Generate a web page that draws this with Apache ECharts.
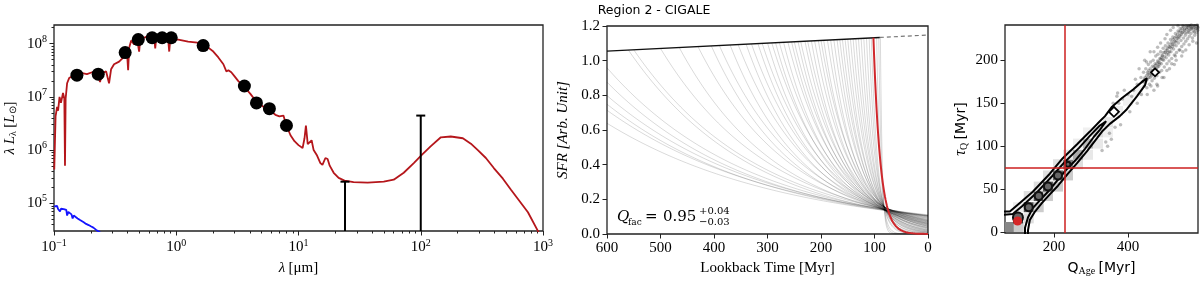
<!DOCTYPE html>
<html><head><meta charset="utf-8">
<script src="https://cdn.jsdelivr.net/npm/echarts@6/dist/echarts.min.js"></script>
<style>html,body{margin:0;padding:0;background:#fff}#c{width:1200px;height:281px}</style>
</head><body><div id="c"></div>
<script>
// ---------------- Panel 1: SED (wavelength [um], lambda L_lambda [Lsun]) ----------------
const sedModel = [[0.1005,4.3e5],[0.103,4.3e6],[0.106,6.5e6],[0.108,5.5e6],[0.111,1.0e7],[0.114,7.7e6],[0.1185,1.19e7],[0.1215,9.2e6],[0.123,5.1e5],[0.1245,9.2e6],[0.128,1.8e7],[0.133,2.25e7],[0.141,2.45e7],[0.154,2.55e7],[0.170,2.8e7],[0.186,2.67e7],[0.205,2.9e7],[0.225,2.8e7],[0.238,1.9e7],[0.247,2.8e7],[0.267,3.0e7],[0.282,1.8e7],[0.293,3.3e7],[0.310,4.1e7],[0.341,4.6e7],[0.375,5.7e7],[0.397,6.0e7],[0.404,3.16e7],[0.412,8.4e7],[0.428,1.14e8],[0.453,9.6e7],[0.479,1.19e8],[0.497,7.1e7],[0.507,1.19e8],[0.568,1.35e8],[0.66,1.29e8],[0.673,8.1e7],[0.686,1.29e8],[0.782,1.29e8],[0.859,1.19e8],[0.876,7.1e7],[0.893,1.19e8],[1.04,1.19e8],[1.25,1.09e8],[1.49,1.04e8],[1.66,9.2e7],[1.83,8.4e7],[2.01,7.1e7],[2.21,5.5e7],[2.43,4.1e7],[2.57,3.0e7],[2.67,3.16e7],[2.82,2.9e7],[2.99,2.45e7],[3.22,1.98e7],[3.61,1.53e7],[4.04,1.14e7],[4.53,8.1e6],[5.16,6.5e6],[5.78,5.7e6],[6.47,4.6e6],[6.98,4.3e6],[7.53,4.45e6],[7.97,2.9e6],[8.6,1.9e6],[9.27,1.47e6],[10.0,1.24e6],[10.8,1.09e6],[11.2,1.67e6],[11.5,2.9e6],[11.9,1.29e6],[12.3,1.35e6],[12.8,1.53e6],[13.3,1.0e6],[14.1,8.1e5],[15.1,5.7e5],[15.7,5.3e5],[16.6,7.1e5],[17.3,6.8e5],[18.0,5.1e5],[19.4,3.75e5],[21.3,3.0e5],[23.8,2.67e5],[28.2,2.5e5],[36.8,2.45e5],[49.8,2.55e5],[60.1,2.78e5],[72.6,3.75e5],[87.7,5.7e5],[102,8.1e5],[121,1.19e6],[146,1.74e6],[176,1.8e6],[221,1.67e6],[257,1.32e6],[293,1.0e6],[341,7.1e5],[396,4.6e5],[470,2.9e5],[547,1.8e5],[635,1.14e5],[753,6.8e4],[910,3.0e4],[1060,1.5e4]];
const sedBlue = [[0.1003,8.8e4],[0.102,9.5e4],[0.104,8.4e4],[0.106,8.9e4],[0.108,7.8e4],[0.110,8.3e4],[0.112,7.0e4],[0.114,7.9e4],[0.117,7.6e4],[0.12,7.8e4],[0.123,7.3e4],[0.126,7.5e4],[0.128,5.9e4],[0.131,6.9e4],[0.135,6.5e4],[0.139,6.2e4],[0.142,5.2e4],[0.145,5.9e4],[0.150,5.6e4],[0.156,5.2e4],[0.162,4.9e4],[0.168,4.6e4],[0.175,4.4e4],[0.183,4.1e4],[0.192,3.9e4],[0.20,3.7e4],[0.21,3.5e4],[0.22,3.2e4],[0.23,3.0e4],[0.24,2.8e4]];
const photometry = [[0.154,2.55e7],[0.230,2.67e7],[0.382,6.8e7],[0.489,1.19e8],[0.635,1.29e8],[0.767,1.29e8],[0.910,1.29e8],[1.66,9.2e7],[3.61,1.6e7],[4.53,7.7e6],[5.78,6.0e6],[7.97,2.9e6]];
const upperBars = [[24,2.55e5,1e3],[100,4.45e6,1e3]]; // [wavelength, top, bottom]
const sedXExponents = [-1,0,1,2,3];
const sedYExponents = [5,6,7,8];

// ---------------- Panel 2: SFH curves (quench age [Myr], tau [Myr]) ----------------
const quenchAges = [760,720,700,680,650,625,560,550,500,465,430,405,390,370,355,340,330,318,310,300,292,285,278,270,262,255,250,243,238,230,225,218,212,205,200,195,188,182,176,170,165,160,155,150,145,140,135,130,125,120,115,110,106,96,92,89];
const quenchTaus = [335,322,305,300,280,272,235,236,210,188,176,158,156,140,138,125,126,115,116,105,108,98,100,91,92,84,86,78,80,72,73,65,66,60,61,55,54,48,48,43,42,38,37,33,32,29,27,24,22,19,17,14,12,7,5,3.5];
const bestQ = 102, bestTau = 13;
const sfrTopSolid = [[600,1.055],[90,1.134]];
const sfrTopDashed = [[90,1.134],[0,1.148]];

// ---------------- Panel 3: posterior (Q_Age, tau_Q) ----------------
const posteriorSamples = [[440,175],[442,186],[444,170],[446,180],[448,190],[449,176],[451,168],[453,186],[455,195],[456,180],[458,172],[460,190],[461,198],[463,184],[465,176],[466,193],[468,200],[470,187],[471,179],[473,196],[475,205],[476,190],[478,182],[480,199],[481,207],[483,193],[485,186],[486,202],[488,210],[490,196],[491,188],[493,205],[495,214],[496,200],[498,192],[500,209],[501,217],[503,203],[505,196],[506,212],[508,220],[510,206],[511,199],[513,215],[515,224],[516,210],[518,202],[520,219],[521,227],[523,213],[525,206],[526,222],[528,231],[530,217],[531,209],[533,226],[535,234],[536,220],[538,212],[540,229],[541,237],[543,223],[545,216],[546,232],[548,240],[550,226],[551,219],[553,235],[555,229],[556,222],[558,238],[560,232],[561,225],[563,240],[565,235],[566,228],[568,239],[570,231],[572,237],[574,226],[576,234],[578,240],[580,229],[582,236],[584,232],[586,239],[588,235],[420,178],[430,190],[436,160],[445,200],[452,160],[462,170],[470,210],[478,172],[488,220],[497,180],[505,230],[512,190],[522,238],[530,200],[540,212],[548,210],[556,212],[565,218],[575,222],[585,220],[470,165],[500,225],[525,195],[415,165],[425,150],[410,158],[400,160],[405,140],[390,165],[385,155],[375,150],[370,158],[365,122],[380,125],[350,115],[340,105],[355,108],[345,100],[330,95],[360,150],[372,162],[425,172],[435,180],[450,198],[460,210],[480,215],[515,235],[535,240],[480,170],[492,180],[505,188],[518,196],[528,205],[545,205],[490,203],[492,206],[494,201],[496,209],[498,204],[502,211],[504,207],[506,214],[508,209],[510,216],[512,210],[514,218],[516,214],[518,221],[520,216],[522,224],[524,218],[526,226],[528,221],[530,228],[532,223],[534,230],[536,226],[538,233],[540,227],[542,234],[544,230],[546,237],[548,233],[550,239],[552,236],[554,232],[557,240],[559,236],[562,238],[564,233],[567,240],[569,236],[571,241],[573,238],[577,238],[579,233],[581,240],[583,237],[587,241],[589,238],[460,180],[462,186],[464,182],[466,188],[468,184],[470,192],[472,188],[474,194],[476,186],[478,196],[480,192],[482,198],[484,195],[486,197],[488,201],[450,182],[452,178],[454,184],[456,188],[458,183],[444,178],[446,174]];
const histCells = [[81,6,0.47],[105,6,0.2],[103,16,0.8],[132,16,0.13],[103,29,0.07],[132,29,0.67],[159,29,0.2],[132,42,0.13],[159,42,0.67],[184,42,0.2],[159,53,0.13],[184,53,0.67],[211,53,0.2],[184,66,0.13],[211,66,0.6],[238,66,0.2],[211,79,0.12],[238,79,0.5],[265,79,0.13],[238,90,0.1],[265,90,0.33],[292,90,0.09],[265,103,0.07],[292,103,0.27],[319,103,0.09],[292,116,0.06],[319,116,0.13],[346,116,0.06],[346,128,0.1],[373,141,0.07],[400,153,0.06],[427,164,0.05]];
const outerContour = [[54,24],[81,24],[89,27],[108,34],[143,47],[189,68],[224,86],[262,102],[297,117],[324,129],[338,135],[357,146],[384,156],[414,166],[441,176],[451,179],[446,171],[424,158],[397,143],[378,135],[351,126],[332,118],[316,109],[289,94],[262,80],[238,68],[211,54],[189,44],[168,34],[149,24],[135,14],[130,2],[130,-13],[54,-13],[54,24]];
const innerContour = [[54,20],[89,21],[114,30],[149,44],[195,65],[230,82],[268,98],[297,112],[324,124],[341,129],[346,127],[324,119],[308,111],[284,97],[257,83],[232,72],[205,58],[184,47],[162,37],[143,28],[130,17],[122,5],[122,-13],[54,-13],[54,20]];
const contourIslands = [[362,140],[473,186]];
const peakRings = [[103,17],[132,29],[159,42],[184,53],[211,66],[238,79]];
const medianQ = 230, medianTau = 75;

// ---------------- helpers ----------------
const lg = Math.log10;
const toLog = arr => arr.map(p => [lg(p[0]), lg(p[1])]);
function topLevel(t){
  const a = sfrTopSolid[0], b = sfrTopDashed[1];
  return a[1] + (b[1]-a[1])*(t-a[0])/(b[0]-a[0]);
}
function quenchCurve(Q, tau){
  const s = topLevel(Q), pts = [], start = Math.min(Q, 600);
  const step = Math.max(0.25, Math.min(4, tau/12));
  for (let t = start; t > 0; t -= step) pts.push([t, s*Math.exp(-(Q-t)/tau)]);
  pts.push([0, s*Math.exp(-Q/tau)]);
  return pts;
}
const minorX = [], minorY = [];
for (let n=-1;n<=2;n++) for (let k=2;k<=9;k++) minorX.push(lg(k*Math.pow(10,n)));
for (let n=4;n<=8;n++) for (let k=2;k<=9;k++){ const v=lg(k*Math.pow(10,n)); if(v>4.48&&v<8.35) minorY.push(v); }

const SERIF = 'Liberation Serif';
const tickStyle = {color:'#222', width:1};
const lblBase = {color:'#000', fontFamily:SERIF, fontSize:15};
const supRich = {b:{fontFamily:SERIF,fontSize:15,color:'#000'}, s:{fontFamily:SERIF,fontSize:10,color:'#000',padding:[0,0,9,0]}};
const expFmt = v => '{b|10}{s|' + (v<0 ? '\u2212'+Math.abs(v) : v) + '}';
const noSplit = {show:false};
const noLine = {show:false, onZero:false};

const grids = [
  {left:54, top:25, width:489, height:209},
  {left:607, top:26, width:321, height:209},
  {left:1005, top:25, width:193, height:209}
].map(g => Object.assign(g, {show:true, borderColor:'#222', borderWidth:1.3, backgroundColor:'transparent'}));

const xAxes = [
  {type:'value', gridIndex:0, min:-1, max:3, interval:1, position:'bottom',
   axisLine:noLine, splitLine:noSplit,
   axisTick:{show:true, length:4.5, lineStyle:tickStyle},
   axisLabel:{formatter:expFmt, rich:supRich, margin:7},
   name:'{i|\u03bb} {r|[\u03bcm]}', nameLocation:'middle', nameGap:30,
   nameTextStyle:{rich:{i:{fontFamily:SERIF,fontStyle:'italic',fontSize:15,color:'#000'}, r:{fontFamily:SERIF,fontSize:15,color:'#000'}}}},
  {type:'value', gridIndex:0, min:-1, max:3, position:'bottom',
   axisLine:noLine, splitLine:noSplit, axisLabel:{show:false},
   axisTick:{show:true, length:2.5, customValues:minorX, lineStyle:tickStyle}},
  {type:'value', gridIndex:1, min:0, max:600, interval:100, inverse:true, position:'bottom',
   axisLine:noLine, splitLine:noSplit,
   axisTick:{show:true, length:4.5, lineStyle:tickStyle},
   axisLabel:Object.assign({margin:7}, lblBase),
   name:'Lookback Time [Myr]', nameLocation:'middle', nameGap:27,
   nameTextStyle:{fontFamily:SERIF, fontSize:15, color:'#000'}},
  {type:'value', gridIndex:2, min:68, max:589, position:'bottom',
   axisLine:noLine, splitLine:noSplit,
   axisTick:{show:true, length:4.5, customValues:[200,400], lineStyle:tickStyle},
   axisLabel:Object.assign({margin:7, customValues:[200,400]}, lblBase),
   name:'{q|Q}{s|Age} {r|[Myr]}', nameLocation:'middle', nameGap:27,
   nameTextStyle:{rich:{q:{fontFamily:'DejaVu Sans',fontSize:14,color:'#000'}, s:{fontFamily:SERIF,fontSize:10,color:'#000',padding:[6,0,0,0]}, r:{fontFamily:'DejaVu Sans',fontSize:14,color:'#000'}}}}
];
const yAxes = [
  {type:'value', gridIndex:0, min:4.48, max:8.35, position:'left',
   axisLine:noLine, splitLine:noSplit,
   axisTick:{show:true, length:4.5, customValues:sedYExponents, lineStyle:tickStyle},
   axisLabel:{formatter:expFmt, rich:supRich, margin:7, customValues:sedYExponents},
   name:'{i|\u03bb L}{sb|\u03bb} {r|[}{i|L}{sb|\u2299}{r|]}', nameLocation:'middle', nameGap:36, nameRotate:90,
   nameTextStyle:{rich:{i:{fontFamily:SERIF,fontStyle:'italic',fontSize:15,color:'#000'}, r:{fontFamily:SERIF,fontSize:15,color:'#000'}, sb:{fontFamily:SERIF,fontSize:10,color:'#000',padding:[6,0,0,0]}}}},
  {type:'value', gridIndex:0, min:4.48, max:8.35, position:'left',
   axisLine:noLine, splitLine:noSplit, axisLabel:{show:false},
   axisTick:{show:true, length:2.5, customValues:minorY, lineStyle:tickStyle}},
  {type:'value', gridIndex:1, min:0, max:1.2, interval:0.2, position:'left',
   axisLine:noLine, splitLine:noSplit,
   axisTick:{show:true, length:4.5, lineStyle:tickStyle},
   axisLabel:Object.assign({margin:7, formatter:v=>v.toFixed(1)}, lblBase),
   name:'SFR [Arb. Unit]', nameLocation:'middle', nameGap:36, nameRotate:90,
   nameTextStyle:{fontFamily:SERIF, fontStyle:'italic', fontSize:15, color:'#000'}},
  {type:'value', gridIndex:2, min:-1, max:241, position:'left',
   axisLine:noLine, splitLine:noSplit,
   axisTick:{show:true, length:4.5, customValues:[0,50,100,150,200], lineStyle:tickStyle},
   axisLabel:Object.assign({margin:7, customValues:[0,50,100,150,200]}, lblBase),
   name:'{t|\u03c4}{s|Q} {r|[Myr]}', nameLocation:'middle', nameGap:36, nameRotate:90,
   nameTextStyle:{rich:{t:{fontFamily:SERIF,fontStyle:'italic',fontSize:16,color:'#000'}, s:{fontFamily:SERIF,fontSize:10,color:'#000',padding:[6,0,0,0]}, r:{fontFamily:'DejaVu Sans',fontSize:14,color:'#000'}}}}
];

const series = [];
// Panel 1
series.push({type:'line', xAxisIndex:0, yAxisIndex:0, data:toLog(sedBlue), symbol:'none', lineStyle:{color:'#1414ff', width:1.8}, z:3});
series.push({type:'line', xAxisIndex:0, yAxisIndex:0, data:toLog(sedModel), symbol:'none', lineStyle:{color:'#b5161b', width:1.8}, z:3});
series.push({type:'custom', xAxisIndex:0, yAxisIndex:0, clip:true, z:4,
  data: upperBars.map(b => [lg(b[0]), lg(b[1]), lg(b[2])]),
  renderItem:(params, api) => {
    const top = api.coord([api.value(0), api.value(1)]);
    const bot = api.coord([api.value(0), api.value(2)]);
    return {type:'group', children:[
      {type:'line', shape:{x1:top[0],y1:top[1],x2:bot[0],y2:bot[1]}, style:{stroke:'#000', lineWidth:2}},
      {type:'line', shape:{x1:top[0]-4.5,y1:top[1],x2:top[0]+4.5,y2:top[1]}, style:{stroke:'#000', lineWidth:2}}
    ]};
  }});
series.push({type:'scatter', xAxisIndex:0, yAxisIndex:0, data:toLog(photometry), symbolSize:13, itemStyle:{color:'#000', opacity:1}, z:5});

// Panel 2
quenchAges.forEach((Q, i) => {
  series.push({type:'line', xAxisIndex:2, yAxisIndex:2, data:quenchCurve(Q, quenchTaus[i]), symbol:'none', silent:true,
    lineStyle:{color:'rgba(0,0,0,0.15)', width:1}, z:2});
});
series.push({type:'line', xAxisIndex:2, yAxisIndex:2, data:sfrTopSolid, symbol:'none', lineStyle:{color:'#111', width:1.4}, z:3});
series.push({type:'line', xAxisIndex:2, yAxisIndex:2, data:sfrTopDashed, symbol:'none', lineStyle:{color:'#777', width:1.2, type:[4,3]}, z:3});
series.push({type:'line', xAxisIndex:2, yAxisIndex:2, data:quenchCurve(bestQ, bestTau), symbol:'none', lineStyle:{color:'#d0282c', width:2}, z:4});

// Panel 3
const grey = l => { const g = Math.round(255*(1-l)); return `rgb(${g},${g},${g})`; };
series.push({type:'scatter', xAxisIndex:3, yAxisIndex:3, symbol:'rect', symbolSize:10, z:2, silent:true,
  data: histCells.map(c => ({value:[c[0], c[1]], itemStyle:{color:grey(c[2]), opacity:1}}))});
series.push({type:'scatter', xAxisIndex:3, yAxisIndex:3, symbolSize:3.5, z:2, silent:true,
  data: posteriorSamples, itemStyle:{color:'rgba(0,0,0,0.26)', opacity:1}});
series.push({type:'line', xAxisIndex:3, yAxisIndex:3, data:outerContour, symbol:'none', lineStyle:{color:'#000', width:2}, z:3});
series.push({type:'line', xAxisIndex:3, yAxisIndex:3, data:innerContour, symbol:'none', lineStyle:{color:'#000', width:2}, z:3});
series.push({type:'scatter', xAxisIndex:3, yAxisIndex:3, symbol:'circle', z:4,
  data: peakRings.map((p, i) => ({value:p, symbolSize: i===0 ? 10 : (i===5 ? 5 : 8)})),
  itemStyle:{color:'#666', borderColor:'#111', borderWidth:2, opacity:1}});
series.push({type:'scatter', xAxisIndex:3, yAxisIndex:3, symbol:'diamond', z:4,
  data: contourIslands.map((p, i) => ({value:p, symbolSize: i===0 ? 10 : 8})),
  itemStyle:{color:'#fff', borderColor:'#000', borderWidth:1.8, opacity:1}});
series.push({type:'scatter', xAxisIndex:3, yAxisIndex:3, data:[], z:5,
  markLine:{symbol:['none','none'], silent:true, animation:false, label:{show:false},
    lineStyle:{color:'#cc1f1f', width:1.5, type:'solid'},
    data:[{xAxis:medianQ},{yAxis:medianTau}]}});
series.push({type:'scatter', xAxisIndex:3, yAxisIndex:3, data:[[bestQ, bestTau]], symbolSize:9, itemStyle:{color:'#d62728', opacity:1}, z:6});

const graphic = [
  {type:'text', x:654, y:11, style:{text:'Region 2 - CIGALE', fontFamily:'DejaVu Sans', fontSize:12.5, fill:'#000', align:'center', verticalAlign:'middle'}},
  {type:'text', x:617, y:217, style:{text:'Q', fontFamily:'DejaVu Serif', fontStyle:'italic', fontSize:15, fill:'#000', verticalAlign:'middle'}},
  {type:'text', x:628, y:223, style:{text:'fac', fontFamily:'DejaVu Serif', fontSize:9, fill:'#000', verticalAlign:'middle'}},
  {type:'text', x:645, y:217, style:{text:'=', fontFamily:'DejaVu Serif', fontSize:15, fill:'#000', verticalAlign:'middle'}},
  {type:'text', x:663, y:217, style:{text:'0.95', fontFamily:'DejaVu Serif', fontSize:15, fill:'#000', verticalAlign:'middle'}},
  {type:'text', x:699, y:211, style:{text:'+0.04', fontFamily:'DejaVu Serif', fontSize:10, fill:'#000', verticalAlign:'middle'}},
  {type:'text', x:699, y:222, style:{text:'\u22120.03', fontFamily:'DejaVu Serif', fontSize:10, fill:'#000', verticalAlign:'middle'}}
];

const chart = echarts.init(document.getElementById('c'), null, {renderer:'canvas'});
chart.setOption({animation:false, backgroundColor:'#fff', grid:grids, xAxis:xAxes, yAxis:yAxes, series, graphic});
</script></body></html>
